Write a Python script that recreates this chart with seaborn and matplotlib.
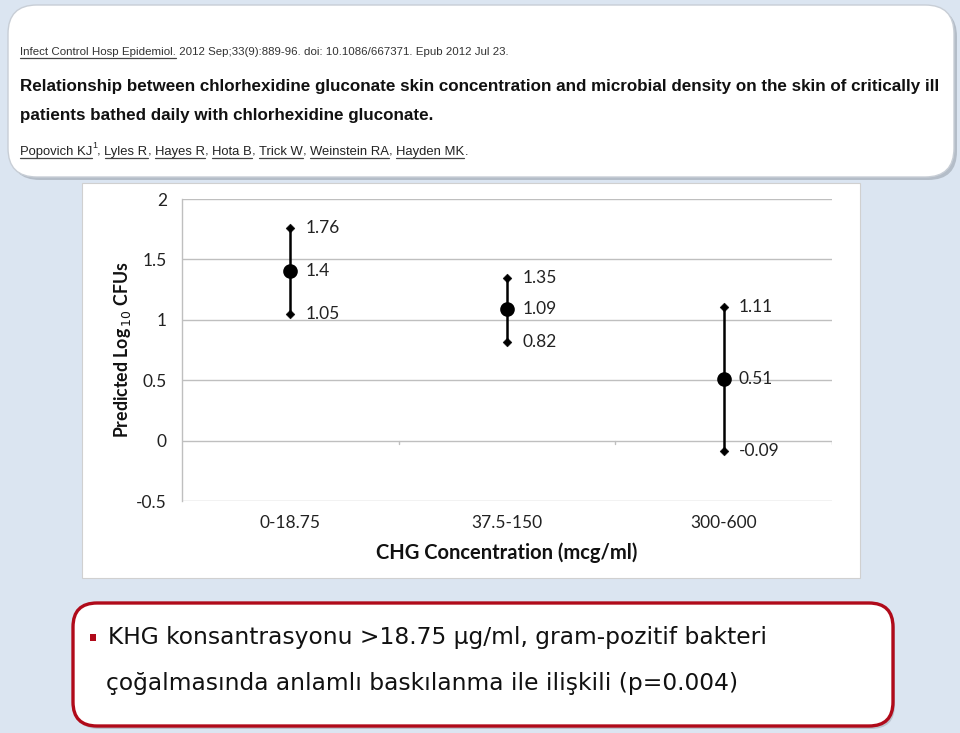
import matplotlib
matplotlib.use("Agg")
import matplotlib.pyplot as plt
from matplotlib.patches import FancyBboxPatch, Rectangle
import seaborn as sns
import pandas as pd
import numpy as np

# ---- data ----
categories = ["0-18.75", "37.5-150", "300-600"]
estimate = [1.4, 1.09, 0.51]
lower = [1.05, 0.82, -0.09]
upper = [1.76, 1.35, 1.11]
yticks = [-0.5, 0, 0.5, 1, 1.5, 2]
ytick_labels = ["-0.5", "0", "0.5", "1", "1.5", "2"]

sns.set_theme(style="white")
plt.rcParams["font.family"] = ["DejaVu Sans"]

W, H = 960, 733
fig = plt.figure(figsize=(W / 100, H / 100), dpi=100)
BG = "#dbe5f1"
fig.patch.set_facecolor(BG)

def fx(px):
    return px / W

def fy(py):
    return 1 - py / H

# ---- top header box ----
shadow = FancyBboxPatch((fx(11), fy(180)), fx(946), fy(8) - fy(180),
                        boxstyle="round,pad=0,rounding_size=0.03",
                        transform=fig.transFigure, facecolor="#9aa3ad",
                        edgecolor="none", alpha=0.6, zorder=0, mutation_aspect=W / H)
fig.patches.append(shadow)
top = FancyBboxPatch((fx(8), fy(177)), fx(946), fy(5) - fy(177),
                     boxstyle="round,pad=0,rounding_size=0.03",
                     transform=fig.transFigure, facecolor="white",
                     edgecolor="#c8ced6", linewidth=1.0, zorder=1, mutation_aspect=W / H)
fig.patches.append(top)

narrow = ["Liberation Sans Narrow", "Liberation Sans", "DejaVu Sans"]

fig.canvas.draw()
renderer = fig.canvas.get_renderer()

def measure(parts, size, weight):
    total = 0
    for txt, ul, dy, sc in parts:
        t = fig.text(0, 0, txt, fontsize=size * sc, family=narrow, weight=weight,
                     stretch="condensed")
        total += t.get_window_extent(renderer=renderer).width
        t.remove()
    return total

def seq_text(x_px, y_px, parts, width_px, weight="normal", color="#222222", ul_off=2.5):
    """Fit a sequence of text pieces into width_px; parts: (text, underline, dy_px, scale)."""
    size = 12 * width_px / measure(parts, 12, weight)
    x = x_px
    for txt, ul, dy, sc in parts:
        t = fig.text(fx(x), fy(y_px - dy), txt, fontsize=size * sc, family=narrow,
                     stretch="condensed", weight=weight, color=color,
                     ha="left", va="baseline", zorder=3)
        bb = t.get_window_extent(renderer=renderer)
        if ul:
            yl = y_px + ul_off
            fig.add_artist(plt.Line2D([fx(bb.x0), fx(bb.x1)], [fy(yl), fy(yl)],
                                      transform=fig.transFigure, color="#444444",
                                      linewidth=0.9, zorder=3))
        x = bb.x1
    return x

seq_text(20, 55, [("Infect Control Hosp Epidemiol.", True, 0, 1),
                  (" 2012 Sep;33(9):889-96. doi: 10.1086/667371. Epub 2012 Jul 23.", False, 0, 1)],
         487, color="#333333")
seq_text(20, 91, [("Relationship between chlorhexidine gluconate skin concentration and microbial density on the skin of critically ill", False, 0, 1)],
         912, weight="bold", color="#111111")
seq_text(20, 120, [("patients bathed daily with chlorhexidine gluconate.", False, 0, 1)],
         412, weight="bold", color="#111111")
authors = [("Popovich KJ", True, 0, 1), ("1", False, 7, 0.7), (", ", False, 0, 1),
           ("Lyles R", True, 0, 1), (", ", False, 0, 1), ("Hayes R", True, 0, 1), (", ", False, 0, 1),
           ("Hota B", True, 0, 1), (", ", False, 0, 1), ("Trick W", True, 0, 1), (", ", False, 0, 1),
           ("Weinstein RA", True, 0, 1), (", ", False, 0, 1), ("Hayden MK", True, 0, 1), (".", False, 0, 1)]
seq_text(20, 155, authors, 445, color="#222222", ul_off=3)

# ---- chart panel ----
panel = Rectangle((fx(82), fy(578)), fx(860) - fx(82), fy(183) - fy(578),
                  transform=fig.transFigure, facecolor="white", edgecolor="#d0d0d0",
                  linewidth=0.8, zorder=1)
fig.patches.append(panel)

ax = fig.add_axes([fx(182), fy(501), fx(832) - fx(182), fy(199) - fy(501)], zorder=2)
ax.set_facecolor("white")

long = pd.DataFrame({
    "cat": np.repeat(categories, 3),
    "val": np.ravel(np.column_stack([lower, estimate, upper])),
})
sns.pointplot(data=long, x="cat", y="val", estimator="median", errorbar=("pi", 100),
              linestyle="none", marker="o", markersize=8.5, color="black",
              err_kws={"linewidth": 1.8}, capsize=0, ax=ax, zorder=4)

ends = pd.DataFrame({
    "pos": list(range(len(categories))) * 2,
    "val": lower + upper,
})
sns.scatterplot(data=ends, x="pos", y="val", marker="D", s=20, color="black",
                edgecolor="black", ax=ax, zorder=5, legend=False)

cal = ["Lato", "DejaVu Sans"]
for i, c in enumerate(categories):
    for v in (lower[i], estimate[i], upper[i]):
        ax.annotate(f"{v:g}", (i, v), xytext=(11, 0), textcoords="offset points",
                    ha="left", va="center", fontsize=12.5, family=cal,
                    color="#222222", zorder=6)

ax.set_xlim(-0.5, 2.5)
ax.set_ylim(-0.5, 2)
ax.set_yticks(yticks)
ax.set_yticklabels(ytick_labels)
ax.set_xticks(range(len(categories)))
ax.set_xticklabels(categories)
for s in ["top", "right", "bottom"]:
    ax.spines[s].set_visible(False)
ax.spines["left"].set_color("#bfbfbf")
ax.spines["left"].set_linewidth(1.0)
ax.grid(False)
for yv in yticks:
    ax.axhline(yv, color="#bfbfbf", linewidth=1.0, zorder=1)
# category separator ticks on the zero line
for xv in [0.5, 1.5, 2.5]:
    ax.plot([xv, xv], [0, -0.025], color="#bfbfbf", linewidth=1.0, zorder=1)
ax.tick_params(axis="both", length=0, labelsize=12.5, labelcolor="#222222")
ax.tick_params(axis="y", pad=11)
ax.tick_params(axis="x", pad=10)
for lab in ax.get_xticklabels() + ax.get_yticklabels():
    lab.set_family(cal)
ax.set_xlabel("CHG Concentration (mcg/ml)", fontsize=14.5, weight="bold",
              family=cal, color="#111111", labelpad=8)
ax.set_ylabel(r"Predicted Log$_{\,10}$ CFUs", fontsize=12.8, weight="bold",
              family=cal, color="#111111", labelpad=2)

# ---- bottom text box ----
bshadow = FancyBboxPatch((fx(75), fy(729)), fx(820), fy(606) - fy(729),
                         boxstyle="round,pad=0,rounding_size=0.025",
                         transform=fig.transFigure, facecolor="#8a8f96",
                         edgecolor="none", alpha=0.4, zorder=0, mutation_aspect=W / H)
fig.patches.append(bshadow)
bbox = FancyBboxPatch((fx(73), fy(726)), fx(820), fy(603) - fy(726),
                      boxstyle="round,pad=0,rounding_size=0.025",
                      transform=fig.transFigure, facecolor="white",
                      edgecolor="#b00a1a", linewidth=2.4, zorder=1, mutation_aspect=W / H)
fig.patches.append(bbox)
fig.patches.append(Rectangle((fx(90), fy(641)), fx(6), fy(634) - fy(641),
                             transform=fig.transFigure, facecolor="#b00a1a",
                             edgecolor="none", zorder=3))
fig.text(fx(108), fy(644), "KHG konsantrasyonu >18.75 µg/ml, gram-pozitif bakteri",
         fontsize=16.8, color="#111111", ha="left", va="baseline", zorder=3)
fig.text(fx(106), fy(690), "çoğalmasında anlamlı baskılanma ile ilişkili (p=0.004)",
         fontsize=16.8, color="#111111", ha="left", va="baseline", zorder=3)

fig.savefig("out.png", dpi=100, facecolor=BG)
